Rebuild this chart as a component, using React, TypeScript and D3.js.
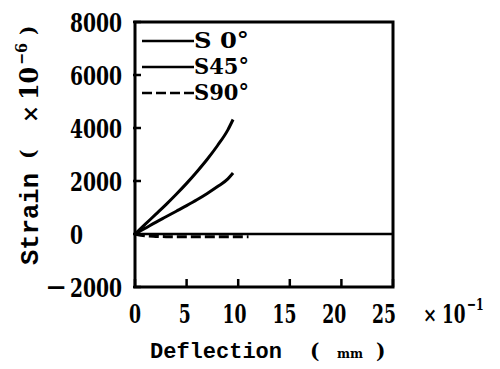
import React from "react";
import * as d3 from "d3";

const deflectionS0 = [0, 1, 2, 3, 4, 5, 6, 7, 8, 9, 9.5];
const strainS0 = [0, 370, 740, 1110, 1500, 1910, 2350, 2820, 3340, 3930, 4320];
const deflectionS45 = [0, 1, 2, 3, 4, 5, 6, 7, 8, 9, 9.5];
const strainS45 = [0, 220, 440, 650, 860, 1070, 1290, 1530, 1790, 2080, 2300];
const deflectionS90 = [0, 1, 2, 3, 4, 5, 6, 7, 8, 9, 10, 11];
const strainS90 = [0, -70, -90, -100, -100, -100, -100, -100, -100, -100, -100, -100];
const seriesNames = ["S 0°", "S45°", "S90°"];
const xTicks = [0, 5, 10, 15, 20, 25];
const yTicks = [-2000, 0, 2000, 4000, 6000, 8000];

const W = 500;
const H = 369;
const SERIF = "'DejaVu Serif', 'Liberation Serif', serif";
const MONO = "'Liberation Mono', 'DejaVu Sans Mono', monospace";

const serifStyle: React.CSSProperties = { fontFamily: SERIF, fontWeight: 700 };
const monoStyle: React.CSSProperties = { fontFamily: MONO, fontWeight: 700 };

export default function App() {
  const x = d3.scaleLinear().domain([0, 25]).range([135, 393]);
  const y = d3.scaleLinear().domain([-2000, 8000]).range([287, 22]);
  const line = d3
    .line<[number, number]>()
    .x((d) => x(d[0]))
    .y((d) => y(d[1]))
    .curve(d3.curveMonotoneX);

  const series = [
    { name: seriesNames[0], pts: deflectionS0.map((d, i) => [d, strainS0[i]] as [number, number]), dash: "none" },
    { name: seriesNames[1], pts: deflectionS45.map((d, i) => [d, strainS45[i]] as [number, number]), dash: "none" },
    { name: seriesNames[2], pts: deflectionS90.map((d, i) => [d, strainS90[i]] as [number, number]), dash: "10,4" },
  ];

  const [x0, x1] = x.range();
  const [yb, yt] = y.range();

  return (
    <svg
      width={W}
      height={H}
      style={{ position: "absolute", left: 0, top: 0, background: "#fff" }}
    >
      <rect x={0} y={0} width={W} height={H} fill="#fff" />
      {/* zero line */}
      <line x1={x0} x2={x1} y1={y(0)} y2={y(0)} stroke="#000" strokeWidth={2.5} />
      {/* series */}
      {series.map((s) => (
        <path
          key={s.name}
          d={line(s.pts) || ""}
          fill="none"
          stroke="#000"
          strokeWidth={3}
          strokeDasharray={s.dash}
        />
      ))}
      {/* frame */}
      <rect x={x0} y={yt} width={x1 - x0} height={yb - yt} fill="none" stroke="#000" strokeWidth={3} />
      {/* y ticks */}
      {yTicks.map((t) => (
        <g key={"yt" + t}>
          <line x1={x0 - 2} x2={x0 + 6} y1={y(t)} y2={y(t)} stroke="#000" strokeWidth={2.5} />
          {t < 0 ? (
            <text x={67} y={y(t) + 9} textAnchor="end" style={serifStyle} fontSize={26}>
              −
            </text>
          ) : null}
          <text
            x={70}
            y={y(t) + 10}
            textAnchor="start"
            style={serifStyle}
            fontSize={26}
            textLength={String(Math.abs(t)).length * 13}
            lengthAdjust="spacingAndGlyphs"
          >
            {String(Math.abs(t))}
          </text>
        </g>
      ))}
      {/* x ticks */}
      {xTicks.map((t, i) => (
        <g key={"xt" + t}>
          <line x1={x(t)} x2={x(t)} y1={yb} y2={yb - 8} stroke="#000" strokeWidth={2.5} />
          <text
            x={x(t) - i * 1.8}
            y={323}
            textAnchor="middle"
            style={serifStyle}
            fontSize={26}
            textLength={String(t).length * 12}
            lengthAdjust="spacingAndGlyphs"
          >
            {String(t)}
          </text>
        </g>
      ))}
      {/* x multiplier */}
      <text x={423} y={322} style={serifStyle} fontSize={20} textLength={14} lengthAdjust="spacingAndGlyphs">
        ×
      </text>
      <g transform="translate(442,323) scale(0.65,1)">
        <text x={0} y={0} style={serifStyle} fontSize={26}>
          10
          <tspan dx={2} dy={-13} fontSize={17}>
            −1
          </tspan>
        </text>
      </g>
      {/* x axis label */}
      <text x={150} y={358} style={monoStyle} fontSize={22} textLength={132} lengthAdjust="spacingAndGlyphs">
        Deflection
      </text>
      <text x={310} y={358} style={serifStyle} fontSize={20}>
        (
      </text>
      <text x={337} y={358} style={serifStyle} fontSize={13} textLength={26} lengthAdjust="spacingAndGlyphs">
        mm
      </text>
      <text x={376} y={358} style={serifStyle} fontSize={20}>
        )
      </text>
      {/* y axis label (rotated) */}
      <g transform="translate(38,0) rotate(-90)">
        <text x={-265} y={0} style={monoStyle} fontSize={26} textLength={92} lengthAdjust="spacingAndGlyphs">
          Strain
        </text>
        <text x={-159} y={-3} style={serifStyle} fontSize={20}>
          (
        </text>
        <text x={-123} y={0} style={serifStyle} fontSize={22} textLength={18} lengthAdjust="spacingAndGlyphs">
          ×
        </text>
        <text x={-100} y={0} style={serifStyle} fontSize={26} textLength={33} lengthAdjust="spacingAndGlyphs">
          10
        </text>
        <text x={-65} y={-11} style={serifStyle} fontSize={16} textLength={22} lengthAdjust="spacingAndGlyphs">
          −6
        </text>
        <text x={-35} y={-3} style={serifStyle} fontSize={20}>
          )
        </text>
      </g>
      {/* legend */}
      {series.map((s, i) => (
        <g key={"lg" + s.name}>
          <line
            x1={142}
            x2={194}
            y1={41 + i * 26}
            y2={41 + i * 26}
            stroke="#000"
            strokeWidth={2.5}
            strokeDasharray={s.dash === "none" ? undefined : "10,4"}
          />
          <text
            x={194}
            y={48 + i * 26}
            style={serifStyle}
            fontSize={23}
            textLength={55}
            lengthAdjust="spacingAndGlyphs"
          >
            {s.name}
          </text>
        </g>
      ))}
    </svg>
  );
}
